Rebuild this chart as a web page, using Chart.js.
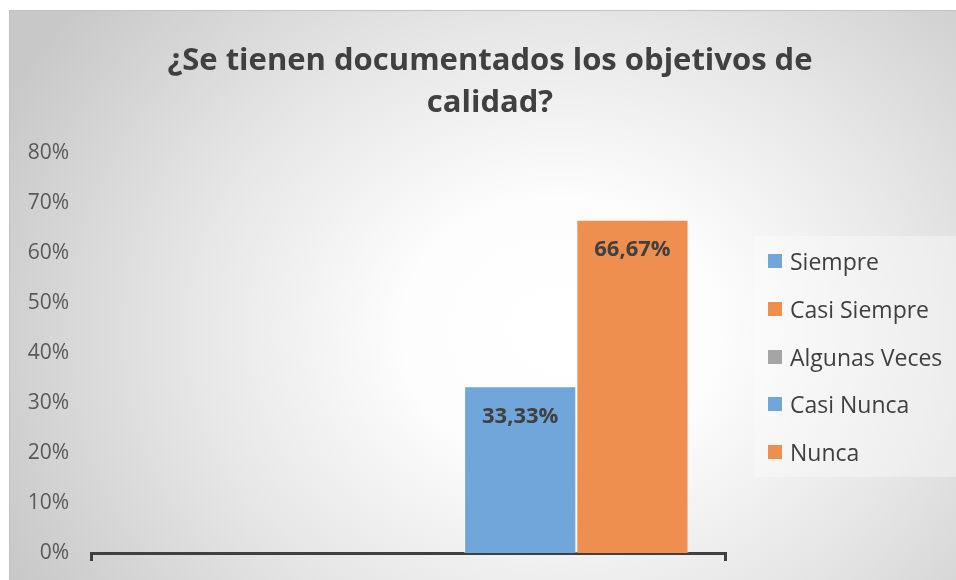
<!DOCTYPE html>
<html>
<head>
<meta charset="utf-8">
<script src="https://cdn.jsdelivr.net/npm/chart.js@4/dist/chart.umd.min.js"></script>
<style>
  html, body { margin: 0; padding: 0; background: #ffffff; width: 956px; height: 580px; overflow: hidden; }
  #frame { position: absolute; left: 9px; top: 10px; width: 947px; height: 570px;
    border-left: 1px solid #c2c2c2; border-top: 1px solid #c2c2c2;
    background: radial-gradient(ellipse 620px 520px at 550px 320px, #ffffff 0%, #fdfdfd 25%, #e6e6e6 60%, #c8c8c8 100%); }
  #chart { position: absolute; left: 0; top: 0; }
  #title { position: absolute; left: 0; top: 26px; width: 960px; text-align: center;
    font-family: "Open Sans", sans-serif; font-weight: bold; font-size: 31px; line-height: 42px; color: #404040; }
  #legendBox { position: absolute; left: 745px; top: 225px; width: 202px; height: 241px; background: rgba(255,255,255,0.35); }
  #legend { position: absolute; left: 758px; top: 238px; font-family: "Open Sans", sans-serif; font-size: 23px; color: #404040; }
  .item { position: absolute; left: 0; height: 24px; white-space: nowrap; }
  .sw { position: absolute; left: 0; top: 5px; width: 14px; height: 14px; }
  .lt { position: absolute; left: 22px; top: -4px; line-height: 32px; }
</style>
</head>
<body>
<div id="frame">
  <canvas id="chart" width="946" height="569"></canvas>
  <div id="title">¿Se tienen documentados los objetivos de<br>calidad?</div>
  <div id="legendBox"></div>
  <div id="legend"></div>
</div>
<script>
const categories = [''];
const seriesNames = ['Siempre', 'Casi Siempre', 'Algunas Veces', 'Casi Nunca', 'Nunca'];
const siempre = [0];
const casiSiempre = [0];
const algunasVeces = [0];
const casiNunca = [0.3333];
const nunca = [0.6667];
const yTicks = [0, 0.1, 0.2, 0.3, 0.4, 0.5, 0.6, 0.7, 0.8];
const seriesColors = ['#70a6da', '#ee8e4f', '#a5a5a5', '#70a6da', '#ee8e4f'];

const seriesValues = [siempre, casiSiempre, algunasVeces, casiNunca, nunca];

const datasets = seriesNames.map((name, i) => ({
  label: name,
  data: seriesValues[i],
  backgroundColor: seriesColors[i],
  borderColor: 'rgba(255,255,255,0.55)',
  borderWidth: 1,
  categoryPercentage: 0.885,
  barPercentage: 1.0
}));

function fmtPct(v) {
  return (v * 100).toFixed(2).replace('.', ',') + '%';
}

const labelPlugin = {
  id: 'barLabels',
  afterDatasetsDraw(chart) {
    const ctx = chart.ctx;
    ctx.save();
    ctx.font = 'bold 22px "Open Sans", sans-serif';
    ctx.fillStyle = '#404040';
    ctx.textAlign = 'center';
    ctx.textBaseline = 'middle';
    chart.data.datasets.forEach((ds, di) => {
      const meta = chart.getDatasetMeta(di);
      meta.data.forEach((bar, j) => {
        const v = ds.data[j];
        if (v > 0) ctx.fillText(fmtPct(v), bar.x, bar.y + 30);
      });
    });
    ctx.restore();
  }
};

new Chart(document.getElementById('chart'), {
  type: 'bar',
  data: { labels: categories, datasets: datasets },
  options: {
    responsive: false,
    animation: false,
    devicePixelRatio: 1,
    layout: { padding: { left: 0, top: 142, right: 231, bottom: 0 } },
    plugins: { legend: { display: false }, title: { display: false }, tooltip: { enabled: false } },
    scales: {
      x: {
        offset: true,
        ticks: { display: false },
        grid: { display: true, drawOnChartArea: false, drawTicks: true, tickLength: 8, color: '#404040', lineWidth: 3, offset: true },
        border: { display: true, color: '#404040', width: 3 },
        afterFit(scale) { scale.height = 27; }
      },
      y: {
        min: 0, max: 0.8,
        afterBuildTicks(scale) { scale.ticks = yTicks.map(v => ({ value: v })); },
        ticks: {
          font: { family: '"Open Sans", sans-serif', size: 21 },
          color: '#595959',
          padding: 6,
          callback: (v) => Math.round(v * 100) + '%'
        },
        grid: { display: false, drawTicks: true, tickLength: 16 },
        border: { display: false },
        afterFit(scale) { scale.width = 81; }
      }
    }
  },
  plugins: [labelPlugin]
});

const legendEl = document.getElementById('legend');
seriesNames.forEach((name, i) => {
  const it = document.createElement('div');
  it.className = 'item';
  it.style.top = (i * 47.75) + 'px';
  const sw = document.createElement('div');
  sw.className = 'sw';
  sw.style.background = seriesColors[i];
  const t = document.createElement('div');
  t.className = 'lt';
  t.textContent = name;
  it.appendChild(sw); it.appendChild(t);
  legendEl.appendChild(it);
});
</script>
</body>
</html>
